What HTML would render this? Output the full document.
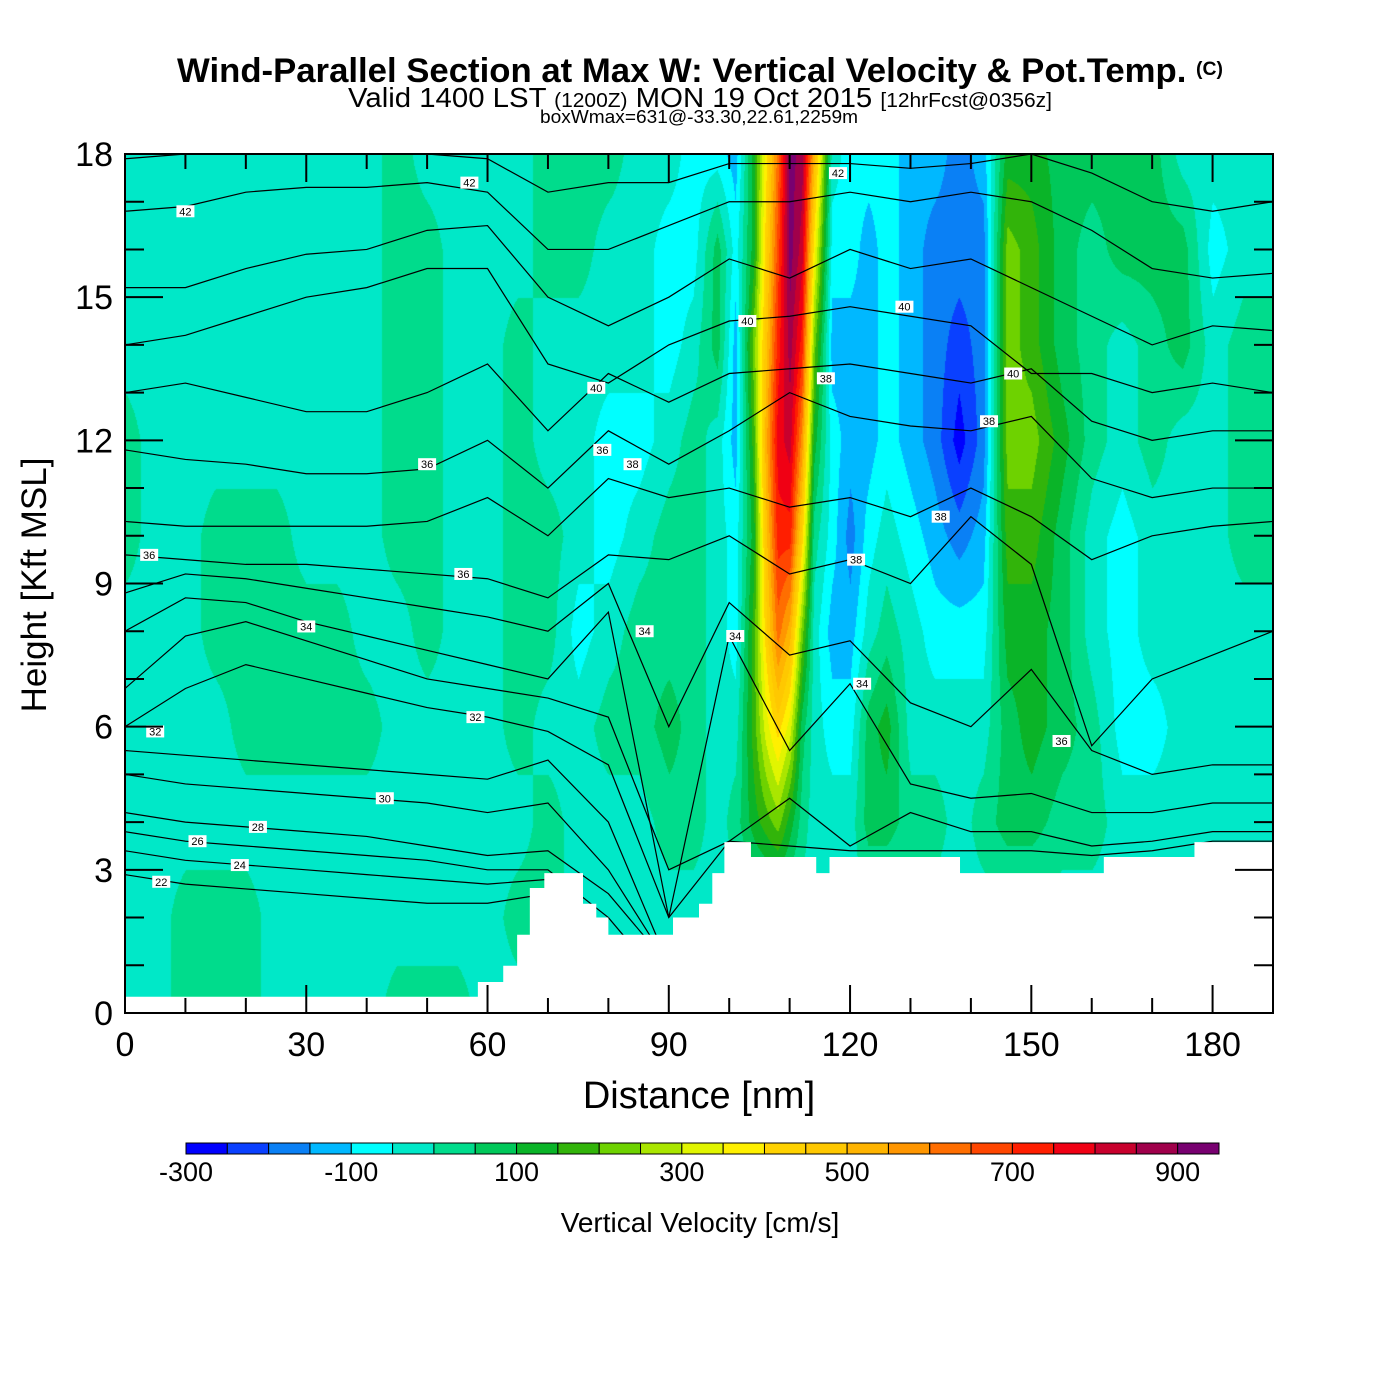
<!DOCTYPE html>
<html><head><meta charset="utf-8">
<style>
html,body{margin:0;padding:0;background:#fff;}
#wrap{position:relative;width:1400px;height:1400px;overflow:hidden;font-family:"Liberation Sans",sans-serif;}
canvas,svg{position:absolute;left:0;top:0;}
</style></head>
<body>
<div id="wrap">
<canvas id="fld" width="1400" height="1400"></canvas>
<svg id="ov" width="1400" height="1400" xmlns="http://www.w3.org/2000/svg">
<text x="700" y="82" text-anchor="middle" font-size="34" font-weight="bold" textLength="1046" lengthAdjust="spacingAndGlyphs">Wind-Parallel Section at Max W: Vertical Velocity &amp; Pot.Temp. <tspan font-size="19" dy="-7">(C)</tspan></text>
<text x="700" y="107" text-anchor="middle" font-size="28" textLength="704" lengthAdjust="spacingAndGlyphs">Valid 1400 LST <tspan font-size="20">(1200Z)</tspan> MON 19 Oct 2015 <tspan font-size="20">[12hrFcst@0356z]</tspan></text>
<text x="699" y="123" text-anchor="middle" font-size="18" textLength="318" lengthAdjust="spacingAndGlyphs">boxWmax=631@-33.30,22.61,2259m</text>
<text x="699" y="1108" text-anchor="middle" font-size="38">Distance [nm]</text>
<text transform="translate(46,585) rotate(-90)" text-anchor="middle" font-size="35">Height [Kft MSL]</text>
<text x="700" y="1232" text-anchor="middle" font-size="28">Vertical Velocity [cm/s]</text>
<g id="lines"></g><g id="terrain"></g><g id="labels"></g><g id="axes"></g><g id="cbar"></g>
</svg>
</div>
<script>
// ---- data ----
const colDist = [0,5,10,15,20,25,30,35,40,45,50,55,60,65,70,75,80,85,90,94,98,101,104,106,108,110,112,114,117,120,123,126,130,134,138,142,146,150,155,160,165,170,175,180,185,190];
const rowHeights = [0,2,4,6,8,10,12,14,16,18];
const wValues = [
[-25,-25,-25,-25,-25,25,25,-25,-25,-25],
[-25,-25,-25,-25,-25,-25,-25,-25,-25,-25],
[25,25,-25,-25,-25,-25,-25,-25,-25,-25],
[25,25,-25,-25,25,25,-25,-25,-25,-25],
[25,25,-25,25,25,25,-25,-25,-25,-25],
[-25,-25,-25,25,25,25,-25,-25,-25,-25],
[-25,-25,-25,25,25,-25,-25,-25,-25,-25],
[-25,-25,-25,25,25,-25,-25,-25,-25,-25],
[-25,-25,-25,25,-25,-25,-25,-25,-25,-25],
[25,-25,-25,-25,-25,25,25,25,25,25],
[25,-25,-25,-25,25,25,25,25,25,-25],
[25,-25,-25,-25,-25,-25,-25,-25,-25,-25],
[-25,-25,-25,-25,-25,-25,-25,-25,-25,-25],
[-25,25,-25,25,25,25,25,25,-25,-25],
[-25,25,25,-25,25,25,-25,-25,25,25],
[-25,-25,-25,-25,-75,-25,-25,-25,25,25],
[-25,-25,-25,25,-25,-75,-75,-25,-25,25],
[-25,-25,-25,25,25,-25,-75,-25,-25,-25],
[-25,-25,25,75,25,25,-25,-75,-75,-25],
[-25,-25,25,25,25,25,25,-25,-75,-75],
[-25,-25,-25,-25,-25,-25,-25,75,75,-75],
[-25,-25,25,-25,-75,-75,-125,-125,-75,-125],
[-25,-25,125,175,175,125,175,225,125,125],
[-25,-25,175,325,425,475,525,475,425,375],
[-25,-25,225,425,625,725,775,725,675,625],
[-25,-25,125,325,525,725,825,875,925,925],
[-25,-25,25,75,225,425,575,725,825,875],
[-25,-25,-25,-25,-25,25,125,225,375,525],
[-25,-25,-25,-75,-125,-75,-75,-125,-75,-25],
[-25,-25,-25,-75,-125,-175,-125,-125,-75,-75],
[-25,-25,75,75,-25,-75,-125,-125,-125,-75],
[-25,-25,75,125,25,-25,-75,-75,-75,-75],
[-25,-25,25,-25,-25,-75,-125,-125,-125,-125],
[-25,-25,25,-25,-75,-125,-175,-175,-175,-125],
[-25,-25,-25,-25,-75,-175,-275,-225,-175,-175],
[-25,-25,25,-25,-75,-125,-175,-175,-175,-125],
[-25,-25,75,75,125,175,225,225,225,125],
[-25,-25,75,125,125,175,225,175,175,125],
[-25,-25,25,75,75,75,125,75,75,75],
[-25,-25,25,25,-25,-25,25,25,25,75],
[-25,-25,-25,-75,-75,-75,-25,-25,75,75],
[-25,-25,-25,-75,-25,-25,25,25,75,75],
[-25,-25,-25,-25,-25,-25,-25,75,75,-25],
[-25,-25,-25,-25,-25,-25,-25,-25,-75,-25],
[-25,-25,-25,-25,-25,25,25,25,-25,-25],
[-25,-25,-25,-25,-25,25,25,25,-25,-25]
];
const terrainEdges = [0,58.4,62.6,64.9,67,69.4,75.8,78,80,90.7,95,97.2,99.2,103.6,114.4,116.6,138.2,162,177,190];
const terrainHeights = [0.34,0.65,0.99,1.64,2.62,2.93,2.29,2.0,1.64,2.0,2.29,2.93,3.58,3.27,2.93,3.27,2.93,3.27,3.58];
const thetaDist = [0,10,20,30,40,50,60,70,80,90,100,110,120,130,140,150,160,170,180,190];
const thetaLevels = [22,24,26,28,30,31,32,33,34,35,36,37,38,39,40,41,42,43];
const thetaLines = [
[2.9,2.7,2.6,2.5,2.4,2.3,2.3,2.5,1.0,0.5,0.5,0.5,0.5,0.5,0.5,0.5,0.5,0.5,0.5,0.5],
[3.4,3.2,3.1,3.0,2.9,2.8,2.7,2.8,1.5,0.5,0.5,0.5,0.5,0.5,0.5,0.5,0.5,0.5,0.5,0.5],
[3.8,3.6,3.5,3.4,3.3,3.2,3.0,3.0,2.0,0.5,0.5,0.5,0.5,0.5,0.5,0.5,0.5,0.5,0.5,0.5],
[4.2,4.0,3.9,3.8,3.7,3.5,3.3,3.4,2.5,1.0,1.0,1.0,1.0,1.0,1.0,1.0,1.0,1.0,1.0,1.0],
[5.0,4.8,4.7,4.6,4.5,4.4,4.2,4.4,3.0,1.0,1.0,1.0,1.0,1.0,1.0,1.0,1.0,1.0,1.0,1.0],
[5.5,5.4,5.3,5.2,5.1,5.0,4.9,5.3,4.0,1.0,1.0,1.0,1.0,1.0,1.0,1.0,1.0,1.0,1.0,1.0],
[6.0,6.8,7.3,7.0,6.7,6.4,6.2,5.9,5.2,2.0,3.6,3.5,3.4,3.4,3.4,3.4,3.3,3.4,3.6,3.6],
[6.8,7.9,8.2,7.8,7.4,7.0,6.8,6.6,6.2,3.0,3.6,4.5,3.5,4.2,3.8,3.8,3.5,3.6,3.8,3.8],
[8.0,8.7,8.6,8.2,7.9,7.6,7.3,7.0,8.4,2.0,7.9,5.5,6.9,4.8,4.5,4.6,4.2,4.2,4.4,4.4],
[8.8,9.2,9.1,8.9,8.7,8.5,8.3,8.0,9.0,6.0,8.6,7.5,7.8,6.5,6.0,7.2,5.5,5.0,5.2,5.2],
[9.6,9.5,9.4,9.4,9.3,9.2,9.1,8.7,9.6,9.5,10.0,9.2,9.5,9.0,10.4,9.4,5.6,7.0,7.5,8.0],
[10.3,10.2,10.2,10.2,10.2,10.3,10.8,10.0,11.2,10.8,11.0,10.6,10.8,10.4,11.0,10.4,9.5,10.0,10.2,10.3],
[11.8,11.6,11.5,11.3,11.3,11.4,12.0,11.0,12.2,11.5,12.2,13.0,12.5,12.3,12.2,12.5,11.2,10.8,11.0,11.0],
[13.0,13.2,12.9,12.6,12.6,13.0,13.6,12.2,13.4,12.8,13.4,13.5,13.6,13.4,13.2,13.5,12.4,12.0,12.2,12.2],
[14.0,14.2,14.6,15.0,15.2,15.6,15.6,13.6,13.2,14.0,14.5,14.6,14.8,14.6,14.4,13.4,13.4,13.0,13.2,13.0],
[15.2,15.2,15.6,15.9,16.0,16.4,16.5,15.0,14.4,15.0,15.8,15.4,16.0,15.6,15.8,15.2,14.6,14.0,14.4,14.3],
[16.8,16.9,17.2,17.3,17.3,17.4,17.2,16.0,16.0,16.5,17.0,17.0,17.2,17.0,17.2,17.0,16.4,15.6,15.4,15.5],
[17.9,18.0,18.0,18.0,18.0,18.0,17.9,17.2,17.4,17.4,17.8,17.8,17.8,17.7,17.8,18.0,17.6,17.0,16.8,17.0]
];
const labelDist = [6,12,19,22,43,58,5,30,56,4,50,79,84,86,101,116,121,122,135,143,147,155,129,103,78,10,57,118];
const labelHeight = [2.75,3.6,3.1,3.9,4.5,6.2,5.9,8.1,9.2,9.6,11.5,11.8,11.5,8.0,7.9,13.3,9.5,6.9,10.4,12.4,13.4,5.7,14.8,14.5,13.1,16.8,17.4,17.6];
const labelText = ["22","26","24","28","30","32","32","34","36","36","36","36","38","34","34","38","38","34","38","38","40","36","40","40","40","42","42","42"];
const xTicks = [0,30,60,90,120,150,180];
const yTicks = [0,3,6,9,12,15,18];
const cbColors = ["#0000ff","#0a40ff","#0a80f5","#00b8ff","#00ffff","#00e8c8","#00dc8c","#00c85a","#0ab428","#32b40a","#6ed200","#aae600","#e1f500","#fff000","#ffd200","#ffc800","#ffb400","#ff9600","#ff6e00","#ff4600","#ff1e00","#f00014","#c8002d","#a0004b","#780070"];
const cbTickVals = [-300,-100,100,300,500,700,900];
// ---- axes ----
const X0=125,X1=1273,Y0=1013,Y1=154, XMAX=190, YMAX=18;
const sx = d => X0 + d*(X1-X0)/XMAX;
const sy = h => Y0 - h*(Y0-Y1)/YMAX;
const CB0=186, CB1=1219, CBMIN=-300, CBMAX=950;
const scb = v => CB0 + (v-CBMIN)*(CB1-CB0)/(CBMAX-CBMIN);
const NS="http://www.w3.org/2000/svg";
function mk(tag, attrs, parent){const e=document.createElementNS(NS,tag);for(const k in attrs)e.setAttribute(k,attrs[k]);parent.appendChild(e);return e;}

// field
const ctx=document.getElementById('fld').getContext('2d');
function colIdx(d){let i=0;while(i<colDist.length-2&&colDist[i+1]<d)i++;return i;}
function val(d,h){
  const i=colIdx(d); const tx=Math.max(0,Math.min(1,(d-colDist[i])/(colDist[i+1]-colDist[i])));
  let j=Math.min(rowHeights.length-2,Math.floor(h/2)); const ty=Math.max(0,Math.min(1,(h-rowHeights[j])/(rowHeights[j+1]-rowHeights[j])));
  const a=wValues[i][j],b=wValues[i+1][j],c=wValues[i][j+1],e=wValues[i+1][j+1];
  return (a*(1-tx)+b*tx)*(1-ty)+(c*(1-tx)+e*tx)*ty;
}
const img=ctx.createImageData(X1-X0,Y0-Y1);
const rgb=cbColors.map(c=>[parseInt(c.slice(1,3),16),parseInt(c.slice(3,5),16),parseInt(c.slice(5,7),16)]);
for(let py=0;py<Y0-Y1;py++){const h=(Y0-Y1-py)*YMAX/(Y0-Y1);
  for(let px=0;px<X1-X0;px++){const d=px*XMAX/(X1-X0);
    let k=Math.floor((val(d,h)-CBMIN)/50);k=Math.max(0,Math.min(24,k));
    const o=(py*(X1-X0)+px)*4;img.data[o]=rgb[k][0];img.data[o+1]=rgb[k][1];img.data[o+2]=rgb[k][2];img.data[o+3]=255;}}
ctx.putImageData(img,X0,Y1);

// theta lines
const gl=document.getElementById('lines');
thetaLines.forEach((ln,li)=>{
  const p=mk('polyline',{points:ln.map((h,i)=>sx(thetaDist[i])+','+sy(Math.min(h,18))).join(' '),fill:'none',stroke:'#000','stroke-width':1.2},gl);
  
  
});
// terrain mask
const gt=document.getElementById('terrain');
let tp='M'+sx(0)+','+sy(0);
terrainHeights.forEach((h,i)=>{tp+=' L'+sx(terrainEdges[i])+','+sy(h)+' L'+sx(terrainEdges[i+1])+','+sy(h);});
tp+=' L'+sx(XMAX)+','+sy(0)+' Z';
const tm=mk('path',{d:tp,fill:'#fff',stroke:'none'},gt);


// labels
const glb=document.getElementById('labels');
labelText.forEach((t,i)=>{
  const x=sx(labelDist[i]),y=sy(labelHeight[i]);
  const g=mk('g',{transform:'translate('+x+','+y+')'},glb);
  
  
  mk('rect',{x:-9,y:-6,width:18,height:12,fill:'#fff'},g);
  const tx=mk('text',{x:0,y:4,'text-anchor':'middle','font-size':11},g);tx.textContent=t;
});
// axes
const ga=document.getElementById('axes');
const fr=mk('rect',{x:X0,y:Y1,width:X1-X0,height:Y0-Y1,fill:'none',stroke:'#000','stroke-width':2},ga);


for(let d=0;d<=XMAX;d+=10){const major=d%30===0,L=major?28:15;
  mk('line',{x1:sx(d),x2:sx(d),y1:Y0,y2:Y0-L,stroke:'#000','stroke-width':2},ga);
  mk('line',{x1:sx(d),x2:sx(d),y1:Y1,y2:Y1+L,stroke:'#000','stroke-width':2},ga);}
for(let h=0;h<=YMAX;h+=1){const major=h%3===0,L=major?38:19;
  mk('line',{x1:X0,x2:X0+L,y1:sy(h),y2:sy(h),stroke:'#000','stroke-width':2},ga);
  mk('line',{x1:X1,x2:X1-L,y1:sy(h),y2:sy(h),stroke:'#000','stroke-width':2},ga);}
xTicks.forEach(v=>{const t=mk('text',{x:sx(v),y:1056,'text-anchor':'middle','font-size':34},ga);t.textContent=v;
  
  });
yTicks.forEach(v=>{const t=mk('text',{x:113,y:sy(v)+12,'text-anchor':'end','font-size':34},ga);t.textContent=v;
  
  });
// colorbar
const gc=document.getElementById('cbar');
cbColors.forEach((c,i)=>{const v=CBMIN+i*50;
  const r=mk('rect',{x:scb(v),y:1143,width:scb(v+50)-scb(v),height:11,fill:c,stroke:'#000','stroke-width':1},gc);
  
  });
cbTickVals.forEach(v=>{const t=mk('text',{x:scb(v),y:1181,'text-anchor':'middle','font-size':27},gc);t.textContent=v;
  
  });
</script>
</body></html>
